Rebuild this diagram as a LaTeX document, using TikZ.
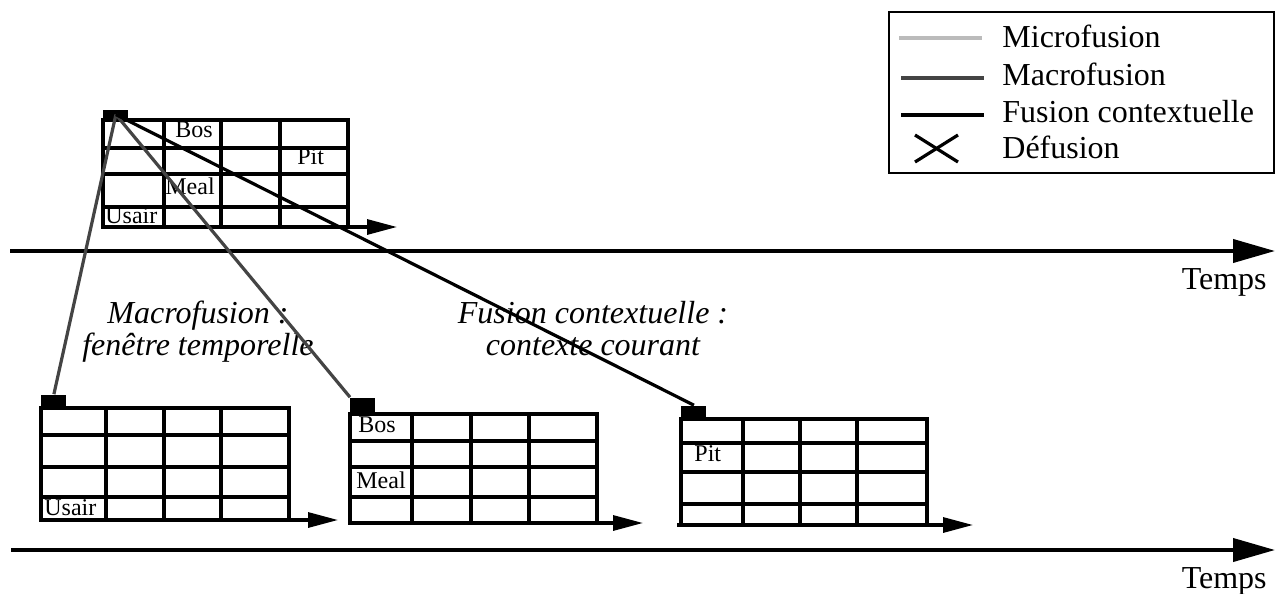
\documentclass[tikz,border=0pt]{standalone}
\usepackage{fontspec}
\setmainfont{Liberation Serif}
\usetikzlibrary{arrows.meta, positioning}
\definecolor{microgris}{HTML}{BBBBBB}
\definecolor{macrogris}{HTML}{444444}

\begin{document}
\begin{tikzpicture}[
    x=0.5pt, y=-0.5pt,
    grille/.style={line width=1.6pt, line cap=rect},
    axe/.style={line width=2pt, -{Triangle[length=21pt, width=11.5pt]}},
    petitaxe/.style={line width=1.6pt, -{Triangle[length=15pt, width=7.5pt]}},
    ancre/.style={rectangle, fill=black, inner sep=0pt,
                  minimum width=12.5pt, minimum height=6.5pt, anchor=south west},
    cellule/.style={font=\fontsize{12}{12}\selectfont, inner sep=0pt, anchor=base west},
    texte/.style={font=\fontsize{16}{16}\selectfont, inner sep=0pt, anchor=base west},
    remarque/.style={font=\fontsize{16}{16}\selectfont\itshape, align=center, inner sep=0pt},
    lien/.style={line width=1.6pt}
  ]
  \useasboundingbox (0,0) rectangle (1279,594);

  % grille du haut
  \foreach \x in {103,164,221,280,348} \draw[grille] (\x,120) -- (\x,227);
  \foreach \y in {120,148,174,207} \draw[grille] (103,\y) -- (348,\y);
  \draw[petitaxe] (103,227) -- (397,227);
  \node[ancre, minimum height=5pt] (ancreH) at (103,120) {};
  \node[cellule] (bosH) at (175,137) {Bos};
  \node[cellule] (pitH) at (297,164) {Pit};
  \node[cellule] (mealH) at (165,194) {Meal};
  \node[cellule] (usairH) at (105,223) {Usair};

  % grilles du bas
  \foreach \x in {41,106,164,221,289} \draw[grille] (\x,408) -- (\x,520);
  \foreach \y in {408,435,467,497} \draw[grille] (41,\y) -- (289,\y);
  \draw[petitaxe] (41,520) -- (338,520);
  \node[ancre] (ancreG) at (41,408) {};
  \node[cellule] (usairG) at (44,515) {Usair};

  \foreach \x in {350,412,471,529,597} \draw[grille] (\x,414) -- (\x,523);
  \foreach \y in {414,441,467,497} \draw[grille] (350,\y) -- (597,\y);
  \draw[petitaxe] (350,523) -- (643,523);
  \node[ancre, minimum height=8pt] (ancreM) at (350,414) {};
  \node[cellule] (bosM) at (358,432) {Bos};
  \node[cellule] (mealM) at (356,488) {Meal};

  \foreach \x in {681,743,800,857,927} \draw[grille] (\x,419) -- (\x,525);
  \foreach \y in {419,443,472,504} \draw[grille] (681,\y) -- (927,\y);
  \draw[petitaxe] (677,525) -- (973,525);
  \node[ancre] (ancreD) at (681,419) {};
  \node[cellule] (pitD) at (694,461) {Pit};

  % axes du temps
  \coordinate (debut1) at (10,251);
  \coordinate (fin1) at (1275,251);
  \coordinate (debut2) at (11,550);
  \coordinate (fin2) at (1275,550);
  \draw[axe] (debut1) -- (fin1);
  \draw[axe] (debut2) -- (fin2);
  \node[texte, anchor=base east] (temps1) at (1267,289) {Temps};
  \node[texte, anchor=base east] (temps2) at (1267,588) {Temps};

  \node[remarque] (macro) at (198,332) {Macrofusion :\\fenêtre temporelle};
  \node[remarque] (contexte) at (593,329) {Fusion contextuelle :\\contexte courant};

  % fusions
  \draw[lien, macrogris] (ancreH.center) -- (ancreG.north);
  \draw[lien, macrogris] (ancreH.center) -- (ancreM.north west);
  \draw[lien] (ancreH.center) -- (ancreD.north);

  % legende
  \draw[line width=1pt] (889,12) rectangle (1274,173);
  \draw[lien, microgris] (899,38) -- (982,38);
  \draw[lien, macrogris] (901,78) -- (984,78);
  \draw[lien] (901,115) -- (984,115);
  \draw[lien] (915,135) -- (958,162);
  \draw[lien] (915,162) -- (958,135);
  \node[texte] (lmicro) at (1002,47) {Microfusion};
  \node[texte] (lmacro) at (1002,85) {Macrofusion};
  \node[texte] (lcontexte) at (1002,122) {Fusion contextuelle};
  \node[texte] (ldefusion) at (1002,158) {Défusion};
\end{tikzpicture}
\end{document}
